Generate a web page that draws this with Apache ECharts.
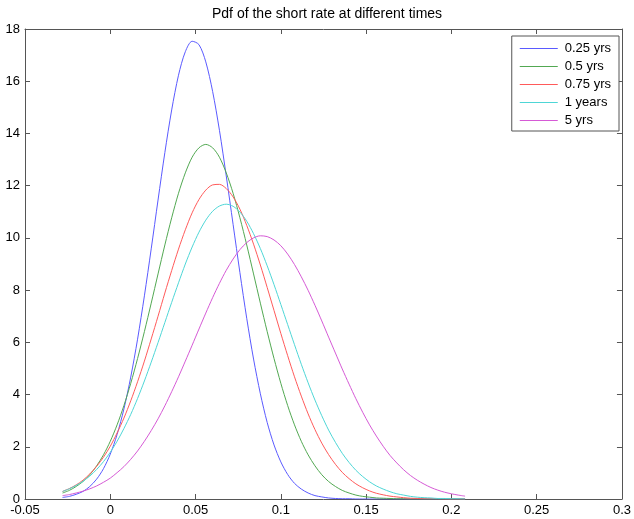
<!DOCTYPE html>
<html>
<head>
<meta charset="utf-8">
<script src="https://cdn.jsdelivr.net/npm/echarts@6/dist/echarts.min.js"></script>
<style>
  html, body { margin: 0; padding: 0; background: #fff; }
  #chart { width: 634px; height: 519px; }
</style>
</head>
<body>
<div id="chart"></div>
<script>
// Short-rate grid (same abscissae for every maturity)
const rateGrid = [
  -0.028, -0.024, -0.020, -0.016, -0.012, -0.008, -0.004, 0.000, 0.004, 0.008,
   0.012,  0.016,  0.020,  0.024,  0.028,  0.032,  0.036, 0.040, 0.044, 0.048,
   0.052,  0.056,  0.060,  0.064,  0.068,  0.072,  0.076, 0.080, 0.084, 0.088,
   0.092,  0.096,  0.100,  0.104,  0.108,  0.112,  0.116, 0.120, 0.124, 0.128,
   0.132,  0.136,  0.140,  0.144,  0.148,  0.152,  0.156, 0.160, 0.164, 0.168,
   0.172,  0.176,  0.180,  0.184,  0.188,  0.192,  0.196, 0.200, 0.204, 0.208
];

// Density values on the grid, one array per horizon
const pdf025 = [
  0.06, 0.10, 0.18, 0.29, 0.48, 0.76, 1.16, 1.72, 2.47, 3.45,
  4.67, 6.12, 7.78, 9.58, 11.45, 13.27, 14.90, 16.23, 17.13, 17.53,
  17.40, 16.74, 15.61, 14.12, 12.37, 10.52, 8.67, 6.92, 5.36, 4.03,
  2.93, 2.07, 1.42, 0.94, 0.60, 0.38, 0.23, 0.13, 0.08, 0.04,
  0.02, 0.01, 0.01, 0, 0, 0, 0, 0, 0, 0,
  0, 0, 0, 0, 0, 0, 0, 0, 0, 0
];
const pdf05 = [
  0.23, 0.33, 0.48, 0.67, 0.93, 1.27, 1.69, 2.21, 2.84, 3.58,
  4.43, 5.38, 6.41, 7.50, 8.62, 9.73, 10.77, 11.71, 12.49, 13.09,
  13.45, 13.58, 13.45, 13.09, 12.49, 11.71, 10.77, 9.73, 8.62, 7.50,
  6.41, 5.38, 4.43, 3.58, 2.84, 2.21, 1.69, 1.27, 0.93, 0.67,
  0.48, 0.33, 0.23, 0.15, 0.10, 0.07, 0.04, 0.03, 0.02, 0.01,
  0.01, 0, 0, 0, 0, 0, 0, 0, 0, 0
];
const pdf075 = [
  0.29, 0.40, 0.54, 0.72, 0.96, 1.25, 1.60, 2.02, 2.53, 3.10,
  3.76, 4.49, 5.28, 6.13, 7.00, 7.89, 8.75, 9.57, 10.31, 10.96,
  11.47, 11.83, 12.03, 12.05, 11.89, 11.57, 11.10, 10.48, 9.76, 8.96,
  8.10, 7.22, 6.34, 5.49, 4.68, 3.94, 3.26, 2.66, 2.14, 1.70,
  1.33, 1.02, 0.78, 0.58, 0.43, 0.31, 0.22, 0.16, 0.11, 0.08,
  0.05, 0.03, 0.02, 0.01, 0.01, 0.01, 0, 0, 0, 0
];
const pdf1 = [
  0.29, 0.39, 0.52, 0.68, 0.88, 1.13, 1.43, 1.79, 2.21, 2.70,
  3.24, 3.85, 4.52, 5.24, 5.99, 6.76, 7.53, 8.28, 9.00, 9.65,
  10.22, 10.68, 11.02, 11.22, 11.29, 11.21, 10.99, 10.64, 10.16, 9.59,
  8.93, 8.21, 7.45, 6.68, 5.91, 5.16, 4.45, 3.79, 3.19, 2.64,
  2.17, 1.75, 1.40, 1.10, 0.86, 0.66, 0.50, 0.38, 0.28, 0.20,
  0.15, 0.10, 0.07, 0.05, 0.04, 0.02, 0.02, 0.01, 0.01, 0.00
];
const pdf5 = [
  0.13, 0.17, 0.23, 0.30, 0.39, 0.50, 0.64, 0.80, 1.01, 1.24,
  1.52, 1.84, 2.21, 2.62, 3.07, 3.57, 4.11, 4.68, 5.28, 5.89,
  6.51, 7.12, 7.71, 8.26, 8.76, 9.19, 9.55, 9.82, 10.00, 10.08,
  10.05, 9.92, 9.70, 9.38, 8.98, 8.51, 7.99, 7.42, 6.82, 6.20,
  5.59, 4.98, 4.40, 3.84, 3.32, 2.84, 2.41, 2.02, 1.67, 1.38,
  1.12, 0.90, 0.72, 0.57, 0.44, 0.34, 0.26, 0.20, 0.15, 0.11
];

const seriesNames = ['0.25 yrs', '0.5 yrs', '0.75 yrs', '1 years', '5 yrs'];
const seriesValues = [pdf025, pdf05, pdf075, pdf1, pdf5];
const seriesColors = ['#5a5aff', '#52a852', '#ff5a5a', '#4ed6d6', '#d65ad6'];

// Axis ranges / tick steps
const xMin = -0.05, xMax = 0.3, xStep = 0.05;
const yMin = 0, yMax = 18, yStep = 2;

const FONT = '"Liberation Sans", Arial, Helvetica, sans-serif';
const frameColor = '#555';

function frameAxis(extra) {
  return Object.assign({
    type: 'value',
    axisLine: { show: true, onZero: false, lineStyle: { color: frameColor, width: 1 } },
    axisTick: { show: true, inside: true, length: 5, lineStyle: { color: frameColor } },
    splitLine: { show: false },
    axisLabel: { show: false }
  }, extra);
}

const fmt = v => String(Math.round(v * 100) / 100);

const chart = echarts.init(document.getElementById('chart'), null, { renderer: 'canvas' });
chart.setOption({
  animation: false,
  backgroundColor: '#fff',
  title: {
    text: 'Pdf of the short rate at different times',
    left: 207,
    top: 2,
    textStyle: { fontFamily: FONT, fontSize: 14, fontWeight: 'normal', color: '#000' }
  },
  grid: { left: 25, right: 12, top: 29, bottom: 20, containLabel: false },
  xAxis: [
    frameAxis({
      min: xMin, max: xMax, interval: xStep, position: 'bottom',
      axisLabel: { show: true, formatter: fmt, color: '#000', fontFamily: FONT, fontSize: 13, margin: 5 }
    }),
    frameAxis({ min: xMin, max: xMax, interval: xStep, position: 'top' })
  ],
  yAxis: [
    frameAxis({
      min: yMin, max: yMax, interval: yStep, position: 'left',
      axisLabel: { show: true, formatter: fmt, color: '#000', fontFamily: FONT, fontSize: 13, margin: 5 }
    }),
    frameAxis({ min: yMin, max: yMax, interval: yStep, position: 'right' })
  ],
  legend: {
    show: true,
    orient: 'vertical',
    right: 15,
    top: 36,
    padding: [5, 8, 3, 8],
    itemGap: 3,
    itemWidth: 38,
    itemHeight: 1,
    icon: 'rect',
    backgroundColor: '#fff',
    borderColor: '#555',
    borderWidth: 1,
    borderRadius: 0,
    textStyle: { fontFamily: FONT, fontSize: 13, lineHeight: 15, color: '#000', padding: [0, 0, 0, 2] },
    data: seriesNames
  },
  series: seriesNames.map((name, i) => ({
    name,
    type: 'line',
    xAxisIndex: 0,
    yAxisIndex: 0,
    data: rateGrid.map((x, k) => [x, seriesValues[i][k]]),
    symbol: 'none',
    showSymbol: false,
    smooth: 0.3,
    itemStyle: { color: seriesColors[i] },
    lineStyle: { width: 1, color: seriesColors[i] },
    z: 3
  }))
});
</script>
</body>
</html>
